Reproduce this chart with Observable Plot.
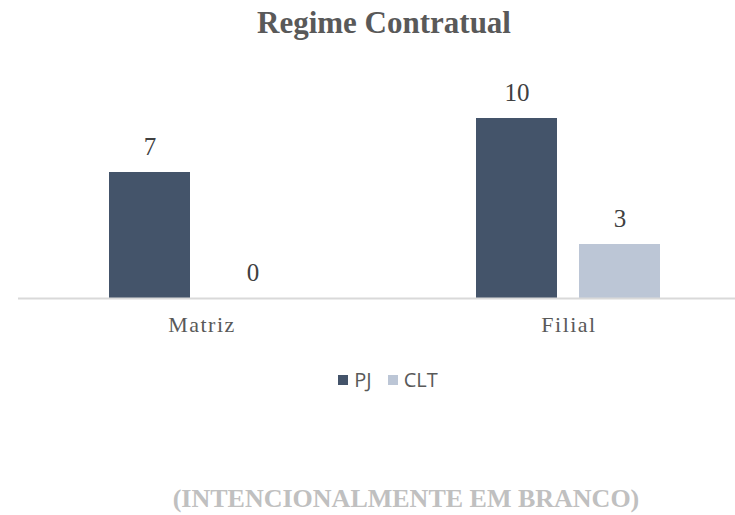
<!DOCTYPE html>
<html><head><meta charset="utf-8">
<script src="https://cdn.jsdelivr.net/npm/d3@7"></script>
<script src="https://cdn.jsdelivr.net/npm/@observablehq/plot@0.6"></script>
<style>
body{margin:0;background:#fff;width:735px;height:515px;overflow:hidden;position:relative}
#title{position:absolute;top:-2px;left:0;width:768px;text-align:center;font:bold 31px "Liberation Serif",serif;color:#595959;line-height:50px;white-space:nowrap}
#chart{position:absolute;top:50px;left:0}
#legend{position:absolute;top:368px;left:0;width:776px;display:flex;justify-content:center;align-items:center;font:20px "Open Sans",sans-serif;color:#595959;line-height:24px}
#legend .item{display:flex;align-items:center;margin:0 8px}
#legend .sw{width:10px;height:10px;margin-right:6px}
#caption{position:absolute;top:480px;left:0;width:812px;text-align:center;font:bold 26px "Liberation Serif",serif;color:#c0c0c0;line-height:38px;white-space:nowrap}
</style>
</head><body>
<div id="title">Regime Contratual</div>
<div id="chart"></div>
<div id="legend"></div>
<div id="caption">(INTENCIONALMENTE EM BRANCO)</div>
<script>
const categories = ["Matriz", "Filial"];
const series = ["PJ", "CLT"];
const pjValues = [7, 10];
const cltValues = [0, 3];
const colors = ["#44546A", "#BCC6D6"];

const data = [];
categories.forEach((c, i) => {
  data.push({cat: c, series: "PJ", value: pjValues[i]});
  data.push({cat: c, series: "CLT", value: cltValues[i]});
});

const chart = Plot.plot({
  width: 735, height: 300,
  marginLeft: 17, marginRight: -17, marginTop: 68, marginBottom: 52,
  fx: {domain: categories, padding: 0, axis: null},
  x: {domain: series, paddingInner: 0.2115, paddingOuter: 0.873, axis: null},
  y: {domain: [0, 10], axis: null},
  color: {domain: series, range: colors},
  marks: [
    Plot.barY(data, {fx: "cat", x: "series", y: "value", fill: "series"}),
    Plot.ruleY([0], {stroke: "#d9d9d9", strokeWidth: 2}),
    Plot.text(data, {fx: "cat", x: "series", y: "value", text: d => String(d.value), dy: -26,
      fontSize: 25, fontFamily: "Liberation Serif", fill: "#404040"}),
    Plot.text(categories, {fx: d => d, text: d => d, frameAnchor: "bottom", dy: 33,
      fontSize: 22, fontFamily: "Liberation Serif", fill: "#595959"})
  ]
});
// widen the category labels' letter spacing like the original
d3.select(chart).selectAll("text").filter(function() {
  return categories.includes(this.textContent);
}).style("letter-spacing", "1.5px");
document.getElementById("chart").appendChild(chart);

const legend = document.getElementById("legend");
series.forEach((s, i) => {
  const item = document.createElement("div");
  item.className = "item";
  const sw = document.createElement("span");
  sw.className = "sw";
  sw.style.background = colors[i];
  const lab = document.createElement("span");
  lab.textContent = s;
  item.appendChild(sw); item.appendChild(lab);
  legend.appendChild(item);
});
</script>
</body></html>
